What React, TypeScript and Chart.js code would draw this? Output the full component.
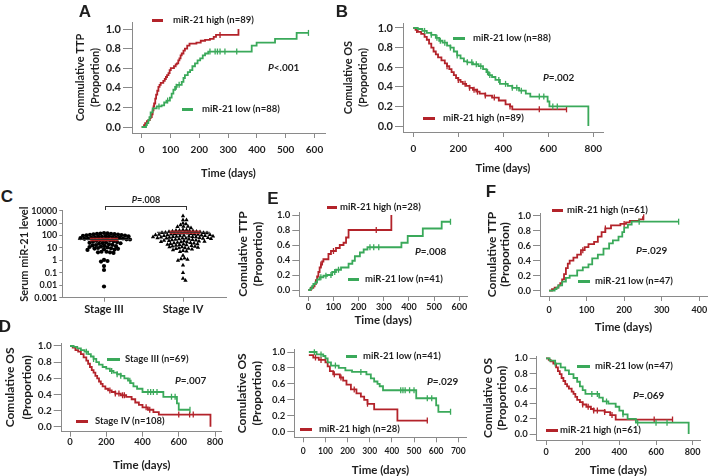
import React, { useEffect, useRef } from 'react';
import { Chart, registerables } from 'chart.js';

Chart.register(...registerables);

type Pt = [number, number];

const RED = '#b3232a';
const GREEN = '#3aa95a';
const AXIS = '#8a8a8a';
const INK = '#1e1e1e';
const FONT = 'Lato, "Open Sans", sans-serif';
const LETTER_FONT = '"Liberation Sans", Arial, sans-serif';

// ---------------- Data ----------------
const PROP_TICKS = [0, 0.2, 0.4, 0.6, 0.8, 1.0];

// Panel A: cumulative TTP (all patients)
const A_HIGH: Pt[] = [[0,0],[8,0.02],[12,0.04],[18,0.06],[23,0.07],[28,0.09],[31,0.1],[35,0.13],[38,0.17],[41,0.21],[43,0.24],[47,0.29],[50,0.33],[54,0.37],[58,0.41],[62,0.43],[66,0.45],[75,0.47],[80,0.49],[84,0.51],[88,0.53],[93,0.55],[97,0.58],[101,0.6],[112,0.62],[118,0.64],[122,0.65],[127,0.68],[131,0.7],[135,0.73],[139,0.75],[145,0.78],[150,0.8],[158,0.83],[166,0.85],[190,0.86],[205,0.88],[220,0.89],[237,0.9],[250,0.92],[258,0.94],[336,1.0]];
const A_HIGH_CENSOR = [272];
const A_HIGH_END = 336;
const A_LOW: Pt[] = [[0,0],[15,0.02],[18,0.04],[23,0.07],[27,0.1],[31,0.15],[38,0.19],[52,0.21],[69,0.22],[78,0.25],[86,0.27],[98,0.3],[104,0.34],[110,0.38],[116,0.41],[122,0.43],[139,0.46],[145,0.5],[150,0.53],[160,0.56],[168,0.58],[176,0.62],[185,0.65],[194,0.68],[203,0.7],[212,0.73],[220,0.75],[231,0.77],[382,0.83],[399,0.86],[463,0.9],[538,0.96]];
const A_LOW_CENSOR = [60, 90, 120, 130, 237, 255, 263, 272, 289, 330, 579];
const A_LOW_END = 579;
const A_X_TICKS = [0, 100, 200, 300, 400, 500, 600];

// Panel B: cumulative OS (all patients)
const B_LOW: Pt[] = [[0,1],[20,0.99],[40,0.97],[60,0.95],[80,0.93],[100,0.9],[115,0.87],[130,0.85],[150,0.82],[165,0.8],[180,0.76],[195,0.72],[210,0.69],[225,0.66],[240,0.65],[265,0.63],[290,0.61],[310,0.58],[325,0.55],[335,0.52],[350,0.5],[365,0.47],[385,0.43],[420,0.41],[440,0.39],[470,0.36],[500,0.33],[520,0.3],[597,0.25],[605,0.2],[778,0]];
const B_LOW_CENSOR = [50, 80, 105, 120, 140, 165, 195, 240, 260, 280, 300, 330, 340, 380, 410, 440, 460, 480, 560, 580, 620, 640];
const B_LOW_END = 778;
const B_HIGH: Pt[] = [[0,1],[10,0.98],[20,0.96],[35,0.94],[50,0.91],[60,0.88],[70,0.84],[80,0.8],[90,0.76],[100,0.73],[110,0.7],[125,0.67],[140,0.64],[150,0.61],[160,0.58],[170,0.55],[180,0.52],[190,0.49],[200,0.47],[210,0.45],[220,0.43],[235,0.41],[250,0.39],[265,0.37],[280,0.35],[295,0.33],[320,0.31],[350,0.29],[380,0.26],[410,0.22],[430,0.2],[440,0.17]];
const B_HIGH_CENSOR = [15, 150, 200, 230, 250, 270, 285, 320, 360, 430, 560, 681];
const B_HIGH_END = 681;
const B_X_TICKS = [0, 200, 400, 600, 800];

// Panel C: serum miR-21 level by stage
const C_GROUPS = ['Stage III', 'Stage IV'];
const C_STAGE3 = [160,150,145,140,135,130,125,120,115,110,105,100,95,90,88,85,80,78,75,72,70,65,62,60,58,55,52,50,48,45,42,40,38,35,32,30,28,26,25,24,22,20,18,17,16,15,14,13,12,11,10,9.5,9,8.5,8,7.5,7,5,5,4.5,4.5,4,1.1,0.9,0.8,0.35,0.17,0.008,66];
const C_STAGE4 = [3700,1800,1800,1000,840,700,540,540,500,400,300,280,260,250,240,230,220,210,200,190,180,175,170,165,160,155,150,145,140,135,130,125,120,120,115,110,105,100,98,95,92,90,88,85,82,80,78,75,72,70,68,65,62,60,60,58,55,52,50,48,46,44,42,40,38,36,34,32,30,30,28,26,25,24,22,20,19,18,17,16,15,14,13,12,12,11,10,10,9,8,7,6,5.5,5,2.5,1.5,1.3,1.2,1.0,0.4,0.1,0.035,0.024,110,66,35,21,8.5];
const C_CENTRE = [48, 184];
const C_Y_TICKS = [0.001, 0.01, 0.1, 1, 10, 100, 1000, 10000];

// Panel E (top): TTP, stage III
const E1_HIGH: Pt[] = [[0,0],[10,0.03],[20,0.05],[25,0.08],[30,0.13],[35,0.18],[40,0.24],[45,0.3],[50,0.34],[55,0.38],[60,0.41],[80,0.48],[90,0.52],[110,0.56],[125,0.6],[140,0.63],[150,0.7],[160,0.8],[330,1.0]];
const E1_HIGH_CENSOR = [50, 100, 270];
const E1_HIGH_END = 330;
const E1_LOW: Pt[] = [[0,0],[8,0.02],[15,0.05],[20,0.08],[28,0.1],[35,0.14],[45,0.17],[60,0.19],[75,0.2],[95,0.24],[110,0.27],[130,0.3],[160,0.35],[175,0.39],[185,0.45],[205,0.5],[220,0.54],[235,0.57],[370,0.63],[395,0.72],[455,0.82],[530,0.91]];
const E1_LOW_CENSOR = [50, 70, 90, 105, 120, 245, 260, 280, 565];
const E1_LOW_END = 565;
const E1_X_TICKS = [0, 100, 200, 300, 400, 500, 600];

// Panel F (top): TTP, stage IV
const F1_HIGH: Pt[] = [[0,0],[8,0.02],[15,0.04],[25,0.07],[30,0.1],[35,0.15],[40,0.22],[45,0.3],[50,0.36],[55,0.4],[65,0.44],[75,0.48],[85,0.54],[95,0.58],[105,0.62],[120,0.65],[130,0.72],[140,0.78],[150,0.83],[165,0.87],[190,0.89],[205,0.91],[215,0.93],[240,0.95],[250,0.98]];
const F1_HIGH_CENSOR = [90, 150, 200, 252];
const F1_HIGH_END = 252;
const F1_LOW: Pt[] = [[0,0],[15,0.02],[20,0.04],[25,0.07],[35,0.12],[45,0.17],[55,0.2],[75,0.27],[90,0.31],[105,0.35],[115,0.43],[130,0.48],[145,0.56],[160,0.63],[170,0.67],[185,0.72],[195,0.78],[200,0.84],[210,0.88],[220,0.92]];
const F1_LOW_CENSOR = [240, 345];
const F1_LOW_END = 345;
const F1_X_TICKS = [0, 100, 200, 300, 400];

// Panel D: OS by stage
const D_III: Pt[] = [[0,1],[20,0.99],[40,0.97],[60,0.95],[80,0.93],[100,0.9],[115,0.87],[130,0.84],[145,0.8],[160,0.77],[180,0.74],[200,0.72],[220,0.69],[240,0.67],[260,0.65],[280,0.63],[300,0.6],[320,0.57],[335,0.54],[350,0.5],[370,0.47],[400,0.43],[515,0.37],[590,0.29],[600,0.21]];
const D_III_CENSOR = [90, 130, 230, 260, 280, 330, 430, 445, 460, 480, 560, 580, 662];
const D_III_END = 662;
const D_IV: Pt[] = [[0,1],[15,0.98],[30,0.95],[45,0.93],[60,0.9],[75,0.86],[90,0.82],[100,0.78],[110,0.74],[120,0.7],[130,0.67],[140,0.63],[150,0.6],[160,0.56],[170,0.53],[180,0.5],[195,0.47],[210,0.45],[230,0.43],[250,0.41],[280,0.39],[310,0.37],[340,0.34],[360,0.3],[380,0.27],[400,0.24],[430,0.21],[460,0.18],[490,0.15],[775,0]];
const D_IV_CENSOR = [220, 250, 270, 290, 300, 420, 440, 600, 660, 680];
const D_IV_END = 775;
const D_X_TICKS = [0, 200, 400, 600, 800];

// Panel E (bottom): OS, stage III
const E2_LOW: Pt[] = [[25,1],[60,0.97],[90,0.95],[100,0.92],[110,0.87],[125,0.83],[160,0.8],[190,0.77],[220,0.75],[285,0.72],[305,0.67],[320,0.63],[335,0.6],[345,0.57],[360,0.52],[510,0.42],[600,0.33],[610,0.25]];
const E2_LOW_CENSOR = [50, 80, 145, 260, 440, 450, 460, 480, 500, 560, 580, 665];
const E2_LOW_END = 665;
const E2_HIGH: Pt[] = [[25,0.96],[45,0.93],[70,0.9],[100,0.87],[110,0.82],[120,0.76],[135,0.72],[165,0.68],[180,0.64],[195,0.59],[215,0.53],[240,0.48],[260,0.44],[275,0.4],[290,0.35],[320,0.28],[425,0.14]];
const E2_HIGH_CENSOR = [55, 80, 140, 170, 230, 290, 560];
const E2_HIGH_END = 560;
const E2_X_TICKS = [0, 100, 200, 300, 400, 500, 600, 700];

// Panel F (bottom): OS, stage IV
const F2_LOW: Pt[] = [[0,1],[20,0.97],[50,0.93],[80,0.88],[105,0.84],[125,0.79],[150,0.74],[170,0.69],[185,0.63],[200,0.58],[215,0.53],[290,0.48],[310,0.43],[340,0.4],[380,0.36],[400,0.31],[420,0.26],[445,0.2],[490,0.15],[778,0]];
const F2_LOW_CENSOR = [50, 250, 280, 330, 420, 500, 600, 660];
const F2_LOW_END = 778;
const F2_HIGH: Pt[] = [[0,1],[15,0.98],[25,0.96],[40,0.93],[55,0.88],[65,0.83],[75,0.79],[85,0.74],[95,0.7],[105,0.66],[115,0.63],[125,0.6],[140,0.56],[150,0.53],[160,0.49],[170,0.45],[185,0.42],[200,0.39],[220,0.36],[245,0.33],[260,0.31],[320,0.29],[350,0.25],[380,0.19]];
const F2_HIGH_CENSOR = [200, 230, 260, 280, 320, 360, 590, 690];
const F2_HIGH_END = 690;
const F2_X_TICKS = [0, 200, 400, 600, 800];

// ---------------- Helpers ----------------
const PT = 14;
const PR = 14;

type Series = { steps: Pt[]; censor: number[]; end: number; color: string };
type KMSpec = {
  plot: [number, number, number, number];
  xZero: number;
  xRef: [number, number];
  yZero: number;
  yOne: number;
  xTicks: number[];
  yW: number;
  xH: number;
  yTitle: string[];
  yTitleSize: number;
  yTitleGap: number;
  xTitle: string;
  xTitleSize: number;
  tickSize: number;
  yTickSize: number;
  yTickLen: number;
  xTickPad: number;
  series: Series[];
};

function stepAt(steps: Pt[], t: number): number {
  let v = steps[0][1];
  for (const [x, y] of steps) {
    if (x <= t) v = y;
  }
  return v;
}

function useBox(plot: [number, number, number, number], yW: number, xH: number) {
  const [L, T, R, B] = plot;
  const left = Math.floor(L - yW);
  const top = Math.floor(T - PT);
  const width = Math.ceil(R + PR - left);
  const height = Math.ceil(B + xH - top);
  const pad = {
    left: L - left - yW,
    top: T - top,
    right: left + width - R,
    bottom: top + height - B - xH,
  };
  return { left, top, width, height, pad };
}

function KMChart({ spec }: { spec: KMSpec }) {
  const ref = useRef<HTMLCanvasElement>(null);
  const box = useBox(spec.plot, spec.yW, spec.xH);
  useEffect(() => {
    const [L, T, R, B] = spec.plot;
    const k = (spec.xRef[1] - spec.xZero) / spec.xRef[0];
    const xMin = (L - spec.xZero) / k;
    const xMax = (R - spec.xZero) / k;
    const ky = spec.yZero - spec.yOne;
    const yMin = (spec.yZero - B) / ky;
    const yMax = (spec.yZero - T) / ky;
    const datasets: any[] = [];
    for (const s of spec.series) {
      const pts = s.steps.map(([x, y]) => ({ x, y }));
      const last = s.steps[s.steps.length - 1];
      if (s.end > last[0]) pts.push({ x: s.end, y: last[1] });
      datasets.push({
        data: pts,
        borderColor: s.color,
        borderWidth: 1.8,
        stepped: 'before',
        pointRadius: 0,
        fill: false,
      });
      datasets.push({
        data: s.censor.map((t) => ({ x: t, y: stepAt(s.steps, t) })),
        showLine: false,
        pointStyle: 'line',
        rotation: 90,
        pointRadius: 3,
        pointBorderColor: s.color,
        pointBorderWidth: 1.3,
        borderColor: s.color,
      });
    }
    const chart = new Chart(ref.current!, {
      type: 'line',
      data: { datasets },
      options: {
        animation: false,
        responsive: false,
        maintainAspectRatio: false,
        events: [],
        layout: { padding: box.pad },
        plugins: { legend: { display: false }, tooltip: { enabled: false } },
        scales: {
          x: {
            type: 'linear',
            min: xMin,
            max: xMax,
            afterBuildTicks: (ax: any) => {
              ax.ticks = spec.xTicks.map((v) => ({ value: v }));
            },
            afterFit: (s: any) => {
              s.height = spec.xH;
            },
            grid: { display: true, drawOnChartArea: false, drawTicks: true, tickLength: 5, color: AXIS },
            border: { display: true, color: AXIS, width: 1 },
            ticks: {
              font: { family: FONT, size: spec.tickSize, weight: 'bold' },
              color: INK,
              padding: spec.xTickPad,
              maxRotation: 0,
              autoSkip: false,
              callback: (v: any) => String(v),
            },
            title: {
              display: true,
              text: spec.xTitle,
              color: INK,
              padding: 0,
              font: { family: FONT, size: spec.xTitleSize, weight: 'bold' },
            },
          },
          y: {
            type: 'linear',
            min: yMin,
            max: yMax,
            afterBuildTicks: (ax: any) => {
              ax.ticks = PROP_TICKS.map((v) => ({ value: v }));
            },
            afterFit: (s: any) => {
              s.width = spec.yW;
            },
            grid: { display: true, drawOnChartArea: false, drawTicks: true, tickLength: spec.yTickLen, color: AXIS },
            border: { display: true, color: AXIS, width: 1 },
            ticks: {
              font: { family: FONT, size: spec.yTickSize, weight: 'bold' },
              color: INK,
              padding: 2,
              autoSkip: false,
              callback: (v: any) => Number(v).toFixed(1),
            },
            title: {
              display: true,
              text: spec.yTitle,
              color: INK,
              padding: 0,
              font: {
                family: FONT,
                size: spec.yTitleSize,
                weight: 'bold',
                lineHeight: spec.yTitleGap / spec.yTitleSize,
              },
            },
          },
        },
      },
    } as any);
    return () => chart.destroy();
  }, []);
  return (
    <canvas
      ref={ref}
      width={box.width}
      height={box.height}
      style={{ position: 'absolute', left: box.left, top: box.top, width: box.width, height: box.height }}
    />
  );
}

function swarm(values: number[], centre: number, pxPerUnit: number, pxPerDecade: number, d: number) {
  const order = values.map((v, i) => ({ v, i })).sort((a, b) => b.v - a.v);
  const placed: { x: number; y: number }[] = [];
  const out: { x: number; y: number }[] = [];
  for (const p of order) {
    const y = Math.log10(p.v) * pxPerDecade;
    let off = 0;
    for (let k = 0; k < 400; k++) {
      const cand = (k % 2 === 1 ? 1 : -1) * Math.ceil(k / 2) * 0.5;
      let ok = true;
      for (const q of placed) {
        const dy = q.y - y;
        const dx = q.x - cand;
        if (dx * dx + dy * dy < d * d) {
          ok = false;
          break;
        }
      }
      if (ok) {
        off = cand;
        break;
      }
    }
    placed.push({ x: off, y });
    out.push({ x: centre + off / pxPerUnit, y: p.v });
  }
  return out;
}

function DotChart() {
  const ref = useRef<HTMLCanvasElement>(null);
  const plot: [number, number, number, number] = [62.3, 210.7, 226.7, 297.7];
  const yW = 44;
  const xH = 20;
  const box = useBox(plot, yW, xH);
  useEffect(() => {
    const [L, , R] = plot;
    const pxU = 79;
    const xMin = 1 - (104 - L) / pxU;
    const xMax = 2 + (R - 183) / pxU;
    const pxDec = (297.7 - 210.7) / 7;
    const s3 = swarm(C_STAGE3, 1, pxU, pxDec, 3.3);
    const s4 = swarm(C_STAGE4, 2, pxU, pxDec, 3.1);
    const seg = (a: number, b: number, y: number) => [{ x: a, y }, { x: b, y }];
    const chart = new Chart(ref.current!, {
      type: 'line',
      data: {
        datasets: [
          { data: seg(1 - 0.33, 1 + 0.35, C_CENTRE[0]), borderColor: '#333', borderWidth: 1, pointRadius: 0 },
          { data: seg(2 - 0.33, 2 + 0.34, C_CENTRE[1]), borderColor: '#333', borderWidth: 1, pointRadius: 0 },
          { data: seg(1 - 0.18, 1 + 0.18, C_CENTRE[0]), borderColor: 'rgba(200,40,40,0.85)', borderWidth: 3.5, pointRadius: 0 },
          { data: seg(2 - 0.17, 2 + 0.22, C_CENTRE[1]), borderColor: 'rgba(200,40,40,0.85)', borderWidth: 3.5, pointRadius: 0 },
          {
            data: s3,
            showLine: false,
            pointStyle: 'circle',
            pointRadius: 2.1,
            pointBackgroundColor: '#000',
            pointBorderColor: '#000',
            pointBorderWidth: 0,
          },
          {
            data: s4,
            showLine: false,
            pointStyle: 'triangle',
            pointRadius: 2.5,
            pointBackgroundColor: '#000',
            pointBorderColor: '#000',
            pointBorderWidth: 0,
          },
        ],
      },
      options: {
        animation: false,
        responsive: false,
        maintainAspectRatio: false,
        events: [],
        layout: { padding: box.pad },
        plugins: { legend: { display: false }, tooltip: { enabled: false } },
        scales: {
          x: {
            type: 'linear',
            min: xMin,
            max: xMax,
            afterBuildTicks: (ax: any) => {
              ax.ticks = [1, 2].map((v) => ({ value: v }));
            },
            afterFit: (s: any) => {
              s.height = xH;
            },
            grid: { display: true, drawOnChartArea: false, drawTicks: true, tickLength: 4, color: AXIS },
            border: { display: true, color: AXIS, width: 1 },
            ticks: {
              font: { family: FONT, size: 11, weight: 'bold' },
              color: INK,
              padding: 1,
              maxRotation: 0,
              autoSkip: false,
              callback: (v: any) => C_GROUPS[Number(v) - 1],
            },
          },
          y: {
            type: 'logarithmic',
            min: 0.001,
            max: 10000,
            afterBuildTicks: (ax: any) => {
              ax.ticks = C_Y_TICKS.map((v) => ({ value: v }));
            },
            afterFit: (s: any) => {
              s.width = yW;
            },
            grid: { display: true, drawOnChartArea: false, drawTicks: true, tickLength: 3, color: AXIS },
            border: { display: true, color: AXIS, width: 1 },
            ticks: {
              font: { family: FONT, size: 9, weight: 'bold' },
              color: INK,
              padding: 2,
              autoSkip: false,
              callback: (v: any) => String(v),
            },
            title: {
              display: true,
              text: 'Serum miR-21 level',
              color: INK,
              padding: 0,
              font: { family: FONT, size: 11, weight: 'bold' },
            },
          },
        },
      },
    } as any);
    return () => chart.destroy();
  }, []);
  return (
    <canvas
      ref={ref}
      width={box.width}
      height={box.height}
      style={{ position: 'absolute', left: box.left, top: box.top, width: box.width, height: box.height }}
    />
  );
}

function Txt(props: {
  x: number;
  y: number;
  size?: number;
  align?: 'left' | 'center';
  family?: string;
  children: React.ReactNode;
}) {
  const { x, y, size = 10, align = 'left', family = FONT, children } = props;
  return (
    <div
      style={{
        position: 'absolute',
        left: x,
        top: y,
        transform: `translate(${align === 'center' ? '-50%' : '0'},-50%)`,
        fontFamily: family,
        fontSize: size,
        fontWeight: 700,
        color: INK,
        whiteSpace: 'nowrap',
        lineHeight: 1,
      }}
    >
      {children}
    </div>
  );
}

function Leg(props: { x0: number; x1: number; tx: number; y: number; color: string; label: string; size?: number }) {
  const { x0, x1, tx, y, color, label, size = 9.5 } = props;
  return (
    <>
      <div style={{ position: 'absolute', left: x0, top: y - 1.5, width: x1 - x0, height: 3, background: color }} />
      <Txt x={tx} y={y} size={size}>
        {label}
      </Txt>
    </>
  );
}

function PVal(props: { x: number; y: number; text: string; size?: number; align?: 'left' | 'center' }) {
  return (
    <Txt x={props.x} y={props.y} size={props.size ?? 10} align={props.align}>
      <i>P</i>
      {props.text}
    </Txt>
  );
}

const SPEC_A: KMSpec = {
  plot: [132, 22, 325, 133], xZero: 141.7, xRef: [600, 314.5], yZero: 127, yOne: 29,
  xTicks: A_X_TICKS, yW: 59.5, xH: 46.6, yTitle: ['Commulative TTP', '(Proportion)'], yTitleSize: 11, yTitleGap: 15,
  xTitle: 'Time (days)', xTitleSize: 11, tickSize: 10, yTickSize: 11, yTickLen: 9, xTickPad: 6,
  series: [
    { steps: A_LOW, censor: A_LOW_CENSOR, end: A_LOW_END, color: GREEN },
    { steps: A_HIGH, censor: A_HIGH_CENSOR, end: A_HIGH_END, color: RED },
  ],
};
const SPEC_B: KMSpec = {
  plot: [403, 23, 603, 132], xZero: 413.3, xRef: [800, 593.3], yZero: 126, yOne: 28,
  xTicks: B_X_TICKS, yW: 62.5, xH: 42.6, yTitle: ['Comulative OS', '(Proportion)'], yTitleSize: 11, yTitleGap: 15,
  xTitle: 'Time (days)', xTitleSize: 11, tickSize: 10, yTickSize: 11, yTickLen: 8, xTickPad: 6,
  series: [
    { steps: B_LOW, censor: B_LOW_CENSOR, end: B_LOW_END, color: GREEN },
    { steps: B_HIGH, censor: B_HIGH_CENSOR, end: B_HIGH_END, color: RED },
  ],
};
const SPEC_E1: KMSpec = {
  plot: [299.3, 212, 467, 296], xZero: 308.3, xRef: [600, 459.3], yZero: 290, yOne: 215,
  xTicks: E1_X_TICKS, yW: 63.8, xH: 30.9, yTitle: ['Comulative TTP', '(Proportion)'], yTitleSize: 12, yTitleGap: 15,
  xTitle: 'Time (days)', xTitleSize: 11.5, tickSize: 9, yTickSize: 9.5, yTickLen: 7, xTickPad: 1,
  series: [
    { steps: E1_LOW, censor: E1_LOW_CENSOR, end: E1_LOW_END, color: GREEN },
    { steps: E1_HIGH, censor: E1_HIGH_CENSOR, end: E1_HIGH_END, color: RED },
  ],
};
const SPEC_F1: KMSpec = {
  plot: [540, 213, 707, 296], xZero: 549, xRef: [400, 699.3], yZero: 290.7, yOne: 215.7,
  xTicks: F1_X_TICKS, yW: 54.5, xH: 37.9, yTitle: ['Comulative TTP', '(Proportion)'], yTitleSize: 12, yTitleGap: 13,
  xTitle: 'Time (days)', xTitleSize: 11.5, tickSize: 9, yTickSize: 9.5, yTickLen: 7, xTickPad: 4,
  series: [
    { steps: F1_LOW, censor: F1_LOW_CENSOR, end: F1_LOW_END, color: GREEN },
    { steps: F1_HIGH, censor: F1_HIGH_CENSOR, end: F1_HIGH_END, color: RED },
  ],
};
const SPEC_D: KMSpec = {
  plot: [61.7, 343, 221.7, 431.7], xZero: 70, xRef: [800, 215], yZero: 426.7, yOne: 346,
  xTicks: D_X_TICKS, yW: 60.2, xH: 40.2, yTitle: ['Comulative OS', '(Proportion)'], yTitleSize: 12, yTitleGap: 17,
  xTitle: 'Time (days)', xTitleSize: 11.5, tickSize: 9.5, yTickSize: 10, yTickLen: 8, xTickPad: 0,
  series: [
    { steps: D_III, censor: D_III_CENSOR, end: D_III_END, color: GREEN },
    { steps: D_IV, censor: D_IV_CENSOR, end: D_IV_END, color: RED },
  ],
};
const SPEC_E2: KMSpec = {
  plot: [294.3, 349.3, 466.7, 437.3], xZero: 303.3, xRef: [700, 458.3], yZero: 431.7, yOne: 352,
  xTicks: E2_X_TICKS, yW: 59.8, xH: 39.6, yTitle: ['Comulative OS', '(Proportion)'], yTitleSize: 12, yTitleGap: 15,
  xTitle: 'Time (days)', xTitleSize: 11.5, tickSize: 8.5, yTickSize: 9.5, yTickLen: 7, xTickPad: 4,
  series: [
    { steps: E2_LOW, censor: E2_LOW_CENSOR, end: E2_LOW_END, color: GREEN },
    { steps: E2_HIGH, censor: E2_HIGH_CENSOR, end: E2_HIGH_END, color: RED },
  ],
};
const SPEC_F2: KMSpec = {
  plot: [536.7, 356, 700, 440], xZero: 546, xRef: [800, 692.7], yZero: 434, yOne: 358.3,
  xTicks: F2_X_TICKS, yW: 55.7, xH: 36.9, yTitle: ['Comulative OS', '(Proportion)'], yTitleSize: 12, yTitleGap: 14,
  xTitle: 'Time (days)', xTitleSize: 11.5, tickSize: 9, yTickSize: 9.5, yTickLen: 7, xTickPad: 2,
  series: [
    { steps: F2_LOW, censor: F2_LOW_CENSOR, end: F2_LOW_END, color: GREEN },
    { steps: F2_HIGH, censor: F2_HIGH_CENSOR, end: F2_HIGH_END, color: RED },
  ],
};

export default function App() {
  return (
    <div
      style={{
        position: 'fixed',
        left: 0,
        top: 0,
        width: 708,
        height: 476,
        overflow: 'hidden',
        background: '#fff',
      }}
    >
      <KMChart spec={SPEC_A} />
      <KMChart spec={SPEC_B} />
      <DotChart />
      <KMChart spec={SPEC_E1} />
      <KMChart spec={SPEC_F1} />
      <KMChart spec={SPEC_D} />
      <KMChart spec={SPEC_E2} />
      <KMChart spec={SPEC_F2} />

      {/* panel letters */}
      <Txt x={85} y={11} size={17} align="center" family={LETTER_FONT}>A</Txt>
      <Txt x={342} y={10.5} size={17} align="center" family={LETTER_FONT}>B</Txt>
      <Txt x={7} y={196} size={17} align="center" family={LETTER_FONT}>C</Txt>
      <Txt x={5} y={326} size={17} align="center" family={LETTER_FONT}>D</Txt>
      <Txt x={273} y={198} size={17} align="center" family={LETTER_FONT}>E</Txt>
      <Txt x={491} y={191} size={17} align="center" family={LETTER_FONT}>F</Txt>

      {/* A */}
      <Leg x0={152} x1={163} tx={173} y={20} color={RED} label="miR-21 high (n=89)" />
      <Leg x0={182} x1={193} tx={202} y={109} color={GREEN} label="miR-21 low (n=88)" />
      <PVal x={268} y={67} text="<.001" />
      {/* B */}
      <Leg x0={453} x1={465} tx={473} y={38} color={GREEN} label="miR-21 low (n=88)" />
      <Leg x0={423} x1={435} tx={443} y={118} color={RED} label="miR-21 high (n=89)" />
      <PVal x={543} y={77} text="=.002" />
      {/* C */}
      <div
        style={{
          position: 'absolute',
          left: 105,
          top: 206,
          width: 80,
          height: 3,
          borderTop: '1px solid #333',
          borderLeft: '1px solid #333',
          borderRight: '1px solid #333',
        }}
      />
      <PVal x={146} y={199} text="=.008" size={9} align="center" />
      {/* E top */}
      <Leg x0={327} x1={337} tx={340} y={207} color={RED} label="miR-21 high (n=28)" />
      <Leg x0={348} x1={359} tx={365} y={279} color={GREEN} label="miR-21 low (n=41)" />
      <PVal x={415} y={251} text="=.008" />
      {/* F top */}
      <Leg x0={552} x1={563} tx={567} y={210} color={RED} label="miR-21 high (n=61)" />
      <Leg x0={578} x1={590} tx={595} y={281} color={GREEN} label="miR-21 low (n=47)" />
      <PVal x={636} y={250} text="=.029" />
      {/* D */}
      <Leg x0={107} x1={120} tx={125} y={359} color={GREEN} label="Stage III (n=69)" />
      <Leg x0={76} x1={88} tx={95} y={421} color={RED} label="Stage IV (n=108)" />
      <PVal x={175} y={380} text="=.007" />
      {/* E bottom */}
      <Leg x0={346} x1={357} tx={363} y={356} color={GREEN} label="miR-21 low (n=41)" />
      <Leg x0={300} x1={312} tx={319} y={429} color={RED} label="miR-21 high (n=28)" />
      <PVal x={427} y={381} text="=.029" />
      {/* F bottom */}
      <Leg x0={577} x1={590} tx={595} y={366} color={GREEN} label="miR-21 low (n=47)" />
      <Leg x0={546} x1={558} tx={560} y={430} color={RED} label="miR-21 high (n=61)" />
      <PVal x={633} y={395} text="=.069" />
    </div>
  );
}
